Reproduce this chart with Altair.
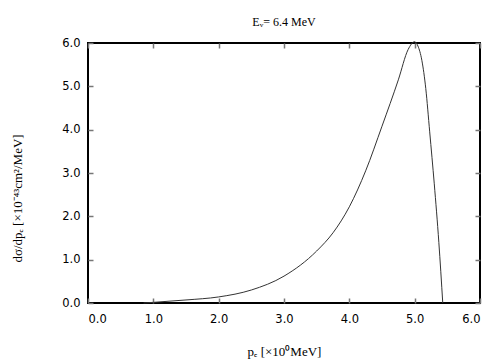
import altair as alt
import pandas as pd

# momentum values (x10^0 MeV) and cross section (x10^-43 cm^2/MeV)
p_e = [0.85, 1.0, 1.5, 2.0, 2.5, 3.0, 3.5, 3.75, 4.0, 4.25, 4.5, 4.75,
       4.9, 5.0, 5.05, 5.11, 5.17, 5.23, 5.3, 5.37, 5.43]
dsigma = [0.0, 0.015, 0.07, 0.14, 0.3, 0.62, 1.2, 1.62, 2.22, 3.05, 4.08,
          5.15, 5.85, 6.03, 5.93, 5.6, 4.95, 3.95, 2.75, 1.4, 0.0]
tick_vals = [0, 1, 2, 3, 4, 5, 6]

df = pd.DataFrame({"p": p_e, "s": dsigma})

xs = alt.Scale(domain=[0, 6], nice=False, zero=False)
ys = alt.Scale(domain=[0, 6], nice=False, zero=False)

tick_style = dict(tickColor="#777777", tickWidth=1.5, tickSize=5, offset=-5,
                  domain=False, grid=False, values=tick_vals)

main = alt.Chart(df).mark_line(color="#333333", strokeWidth=1,
                               interpolate="monotone").encode(
    x=alt.X("p:Q", scale=xs, axis=alt.Axis(
        orient="bottom", format=".1f", labelPadding=10,
        labelFont="DejaVu Sans", labelFontSize=11.5, labelColor="black",
        title="pₑ [×10⁰MeV]", titleFont="Liberation Serif",
        titleFontSize=13, titleFontWeight="normal", titleColor="black",
        titleY=57, titleBaseline="alphabetic", **tick_style)),
    y=alt.Y("s:Q", scale=ys, axis=alt.Axis(
        orient="left", format=".1f", labelPadding=8,
        labelFont="DejaVu Sans", labelFontSize=11.5, labelColor="black",
        title="dσ/dpₑ [×10⁻⁴³cm²/MeV]", titleFont="Liberation Serif",
        titleFontSize=13, titleFontWeight="normal", titleColor="black",
        titleX=-76, titleY=155, titleAngle=270, titleAlign="center",
        titleBaseline="middle", **tick_style)),
)

mirror = alt.Chart(df).mark_line(opacity=0).encode(
    x=alt.X("p:Q", scale=xs, axis=alt.Axis(orient="top", labels=False,
                                           title=None, **tick_style)),
    y=alt.Y("s:Q", scale=ys, axis=alt.Axis(orient="right", labels=False,
                                           title=None, **tick_style)),
)

chart = alt.layer(main, mirror).resolve_axis(x="independent", y="independent").properties(
    width=392, height=260,
    background="white",
    autosize=alt.AutoSizeParams(type="none"),
    padding={"left": 80, "top": 35, "right": 16, "bottom": 57},
    title=alt.TitleParams("Eᵥ= 6.4 MeV", font="Liberation Serif", fontSize=12,
                          fontWeight="normal", color="black", offset=8),
).configure_view(stroke="black", strokeWidth=2)

chart.save("out.html", embed_options={"renderer": "svg", "actions": False})
